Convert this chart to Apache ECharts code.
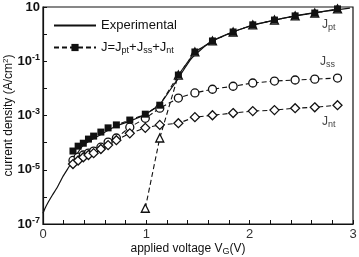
<!DOCTYPE html>
<html>
<head>
<meta charset="utf-8">
<script src="https://cdn.jsdelivr.net/npm/echarts@6/dist/echarts.min.js"></script>
<style>
  html, body { margin: 0; padding: 0; background: #fff; }
  #chart { width: 359px; height: 257px; }
</style>
</head>
<body>
<div id="chart"></div>
<script>
// measured points (V, A/cm^2)
const voltage = [0.29, 0.34, 0.39, 0.44, 0.49, 0.56, 0.63, 0.71, 0.84, 0.99,
                 1.13, 1.31, 1.47, 1.64, 1.84, 2.03, 2.24, 2.44, 2.63, 2.85];
const jTotal = [4.9e-5, 7.4e-5, 9.5e-5, 1.35e-4, 1.74e-4, 2.45e-4, 3.5e-4, 4.5e-4, 6.8e-4, 1.12e-3,
                2.4e-3, 0.031, 0.22, 0.56, 1.2, 2.2, 3.3, 4.7, 6.0, 8.5];
const jSS = [2.2e-5, 2.9e-5, 3.5e-5, 4.1e-5, 4.9e-5, 6.8e-5, 1.05e-4, 1.48e-4, 3.7e-4, 7.9e-4,
             1.86e-3, 4.4e-3, 6.8e-3, 9.3e-3, 0.012, 0.0158, 0.0186, 0.0204, 0.0219, 0.024];
const jNT = [1.62e-5, 2.2e-5, 2.9e-5, 3.5e-5, 4.1e-5, 5.8e-5, 8.1e-5, 1.23e-4, 2.2e-4, 3.5e-4,
             4.5e-4, 5.2e-4, 8.7e-4, 1.02e-3, 1.23e-3, 1.45e-3, 1.58e-3, 1.86e-3, 2.0e-3, 2.4e-3];
const jptVoltage = [0.99, 1.13, 1.31, 1.47, 1.64, 1.84, 2.03, 2.24, 2.44, 2.63, 2.85];
const jPT = [3.8e-7, 1.48e-4, 0.031, 0.22, 0.56, 1.2, 2.2, 3.3, 4.7, 6.0, 8.5];

// experimental curve
const expVoltage = [0, 0.02, 0.05, 0.09, 0.14, 0.19, 0.25, 0.29, 0.39, 0.56, 0.71, 0.84,
                    0.99, 1.13, 1.23, 1.31, 1.44, 1.62, 1.81, 2.01, 2.20, 2.44, 2.68, 2.97];
const expCurrent = [2.5e-7, 3.8e-7, 6.3e-7, 1.15e-6, 2.3e-6, 5.4e-6, 1.26e-5, 2.2e-5, 8.1e-5, 2.0e-4, 4.1e-4, 6.2e-4,
                    1.12e-3, 2.6e-3, 8.7e-3, 0.024, 0.13, 0.51, 1.1, 2.0, 3.0, 4.7, 6.6, 9.1];

// labelled decades on the y axis
const yLabelExponents = [-7, -5, -3, -1, 1];
const xLabelValues = [0, 1, 2, 3];

const font = 'Liberation Sans, Arial, sans-serif';
const ink = '#111';

function pairs(xs, ys) {
    return xs.map((x, i) => [x, ys[i]]);
}

function initChart() {
    const chart = echarts.init(document.getElementById('chart'), null, { renderer: 'canvas' });

    const dashed = { color: ink, width: 1.1, type: [5, 3] };
    const openMarker = { color: '#fff', borderColor: ink, borderWidth: 1.3 };

    const option = {
        animation: false,
        backgroundColor: '#fff',
        textStyle: { fontFamily: font, color: ink },
        grid: {
            left: 43, right: 6, top: 7, bottom: 33,
            outerBoundsMode: 'none',
            containLabel: false,
            show: true, borderColor: ink, borderWidth: 1.2
        },
        legend: {
            orient: 'vertical',
            left: 48,
            top: 14,
            itemWidth: 42,
            itemHeight: 9,
            itemGap: 9,
            data: [
                { name: 'Experimental', itemStyle: { opacity: 0 } },
                'Jtotal'
            ],
            textStyle: {
                fontFamily: font, fontSize: 13, color: ink,
                rich: {
                    sub: { fontSize: 9, verticalAlign: 'bottom', padding: [7, 0, 0, 0], color: ink }
                }
            },
            formatter: function(name) {
                if (name === 'Jtotal') {
                    return 'J=J{sub|pt}+J{sub|ss}+J{sub|nt}';
                }
                return name;
            }
        },
        xAxis: {
            type: 'value',
            min: 0,
            max: 3,
            interval: 0.2,
            name: 'applied voltage V{sub|G}(V)',
            nameLocation: 'middle',
            nameMoveOverlap: false,
            nameGap: 17,
            nameTextStyle: {
                fontFamily: font, fontSize: 12, color: ink, padding: [0, 20, 0, 0],
                rich: { sub: { fontSize: 9, verticalAlign: 'bottom', padding: [6, 0, 0, 0] } }
            },
            axisLine: { lineStyle: { color: ink, width: 1.2 } },
            axisTick: { inside: true, length: 4, lineStyle: { color: ink } },
            splitLine: { show: false },
            axisLabel: {
                fontFamily: font, fontSize: 13, color: '#333', margin: 4,
                formatter: function(v) {
                    const r = Math.round(v);
                    return Math.abs(v - r) < 1e-6 && xLabelValues.includes(r) ? String(r) : '';
                }
            }
        },
        yAxis: {
            type: 'log',
            logBase: 10,
            min: 1e-7,
            max: 10,
            interval: 1,
            name: 'current density (A/cm{sup|2})',
            nameLocation: 'middle',
            nameMoveOverlap: false,
            nameGap: 27,
            nameTextStyle: {
                fontFamily: font, fontSize: 12, color: ink,
                rich: { sup: { fontSize: 8, verticalAlign: 'top', padding: [0, 0, 6, 0] } }
            },
            axisLine: { show: true, lineStyle: { color: ink, width: 1.2 } },
            axisTick: { inside: true, length: 4, lineStyle: { color: ink } },
            splitLine: { show: false },
            axisLabel: {
                margin: 3,
                fontFamily: font, fontSize: 13, fontWeight: 'bold', color: ink,
                formatter: function(v) {
                    const e = Math.round(Math.log10(v));
                    if (!yLabelExponents.includes(e)) {
                        return '';
                    }
                    return e === 1 ? '10' : '10{sup|' + e + '}';
                },
                rich: {
                    sup: { fontSize: 9, fontWeight: 'bold', verticalAlign: 'top', padding: [0, 0, 7, 0] }
                }
            }
        },
        series: [
            {
                name: 'Experimental',
                type: 'line',
                data: pairs(expVoltage, expCurrent),
                symbol: 'none',
                smooth: 0.2,
                lineStyle: { color: ink, width: 1.2 },
                itemStyle: { color: ink },
                z: 2
            },
            {
                name: 'Jpt',
                type: 'line',
                data: pairs(jptVoltage, jPT),
                symbol: 'triangle',
                symbolSize: 8,
                lineStyle: dashed,
                itemStyle: openMarker,
                z: 3
            },
            {
                name: 'Jss',
                type: 'line',
                data: pairs(voltage, jSS),
                symbol: 'circle',
                symbolSize: 8,
                lineStyle: dashed,
                itemStyle: openMarker,
                z: 4
            },
            {
                name: 'Jnt',
                type: 'line',
                data: pairs(voltage, jNT),
                symbol: 'diamond',
                symbolSize: 9,
                lineStyle: dashed,
                itemStyle: openMarker,
                z: 4
            },
            {
                name: 'Jtotal',
                type: 'line',
                data: pairs(voltage, jTotal),
                symbol: 'rect',
                symbolSize: 7,
                lineStyle: dashed,
                itemStyle: { color: ink },
                z: 5
            }
        ],
        graphic: [
            { type: 'text', left: 322, top: 19, style: { text: 'J{sub|pt}', font: '12px ' + font, fill: '#444',
              rich: { sub: { fontSize: 9, verticalAlign: 'bottom', padding: [6, 0, 0, 0] } } } },
            { type: 'text', left: 320, top: 56, style: { text: 'J{sub|ss}', font: '12px ' + font, fill: '#444',
              rich: { sub: { fontSize: 9, verticalAlign: 'bottom', padding: [6, 0, 0, 0] } } } },
            { type: 'text', left: 322, top: 116, style: { text: 'J{sub|nt}', font: '12px ' + font, fill: '#444',
              rich: { sub: { fontSize: 9, verticalAlign: 'bottom', padding: [6, 0, 0, 0] } } } }
        ]
    };

    chart.setOption(option);
}

initChart();
</script>
</body>
</html>
